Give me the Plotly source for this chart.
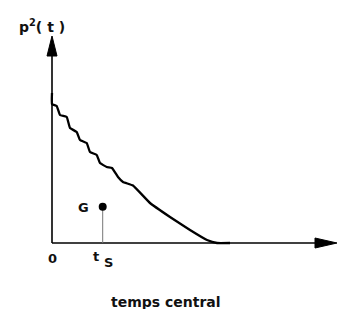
import plotly.graph_objects as go

# curve p^2(t) (t and p2 in arbitrary units)
t_vals = [0, 0, 0.47, 0.8, 1.47, 1.8, 2.47, 2.8, 3.47, 3.8, 4.47, 4.8, 5.47, 6.0, 6.6, 7.1, 8.1, 9.8, 11.8, 13.8, 15.5, 16.5, 17.8]
p2_vals = [15.0, 13.9, 13.7, 12.8, 12.6, 11.5, 11.1, 10.3, 10.0, 9.1, 8.8, 8.0, 7.6, 7.5, 6.6, 6.1, 5.75, 4.0, 2.6, 1.3, 0.3, 0.0, 0.0]

# point G
g_t = [5.07]
g_p2 = [3.63]

# axis extents
x_axis_end = 28.5
y_axis_end = 20.7

FONT = "DejaVu Sans"
fig = go.Figure()

# axes lines
fig.add_trace(go.Scatter(x=[0, x_axis_end - 1.5], y=[0, 0], mode="lines",
                         line=dict(color="black", width=1.6), hoverinfo="skip"))
fig.add_trace(go.Scatter(x=[0, 0], y=[0, y_axis_end - 1.5], mode="lines",
                         line=dict(color="black", width=1.6), hoverinfo="skip"))
# arrowheads
fig.add_trace(go.Scatter(x=[x_axis_end, x_axis_end - 2.2, x_axis_end - 2.2, x_axis_end],
                         y=[0, 0.5, -0.5, 0], mode="lines", fill="toself",
                         fillcolor="black", line=dict(color="black", width=1), hoverinfo="skip"))
fig.add_trace(go.Scatter(x=[0, -0.5, 0.5, 0],
                         y=[y_axis_end, y_axis_end - 2.0, y_axis_end - 2.0, y_axis_end],
                         mode="lines", fill="toself",
                         fillcolor="black", line=dict(color="black", width=1), hoverinfo="skip"))

# curve
fig.add_trace(go.Scatter(x=t_vals, y=p2_vals, mode="lines",
                         line=dict(color="black", width=2.3, shape="spline", smoothing=0.3),
                         hoverinfo="skip"))

# G stem and point
fig.add_trace(go.Scatter(x=[g_t[0], g_t[0]], y=[0, g_p2[0]], mode="lines",
                         line=dict(color="#777777", width=1), hoverinfo="skip"))
fig.add_trace(go.Scatter(x=g_t, y=g_p2, mode="markers",
                         marker=dict(color="black", size=8), hoverinfo="skip"))

ann_font = dict(family=FONT, size=13, color="#111111")
annotations = [
    dict(x=-1.0, y=21.7, text="<b>p<sup>2</sup>( t )</b>", font=dict(family=FONT, size=14, color="#111111")),
    dict(x=0, y=-1.5, text="<b>0</b>", font=ann_font),
    dict(x=4.35, y=-1.3, text="<b>t</b>", font=ann_font),
    dict(x=5.6, y=-1.95, text="<b>S</b>", font=ann_font),
    dict(x=3.1, y=3.6, text="<b>G</b>", font=ann_font),
    dict(x=11.4, y=-5.85, text="<b>temps central</b>", font=dict(family=FONT, size=14, color="#111111")),
]
for a in annotations:
    a.update(showarrow=False, xref="x", yref="y", xanchor="center", yanchor="middle")

fig.update_layout(
    width=342, height=309,
    margin=dict(l=0, r=0, t=0, b=0),
    paper_bgcolor="white", plot_bgcolor="white",
    showlegend=False,
    xaxis=dict(range=[-5.2, 29.0], visible=False, fixedrange=True),
    yaxis=dict(range=[-6.6, 24.3], visible=False, fixedrange=True),
    annotations=annotations,
)

fig.write_html("out.html", config={"displayModeBar": False, "responsive": False},
               post_script="document.body.style.margin='0';document.body.style.overflow='hidden';")
